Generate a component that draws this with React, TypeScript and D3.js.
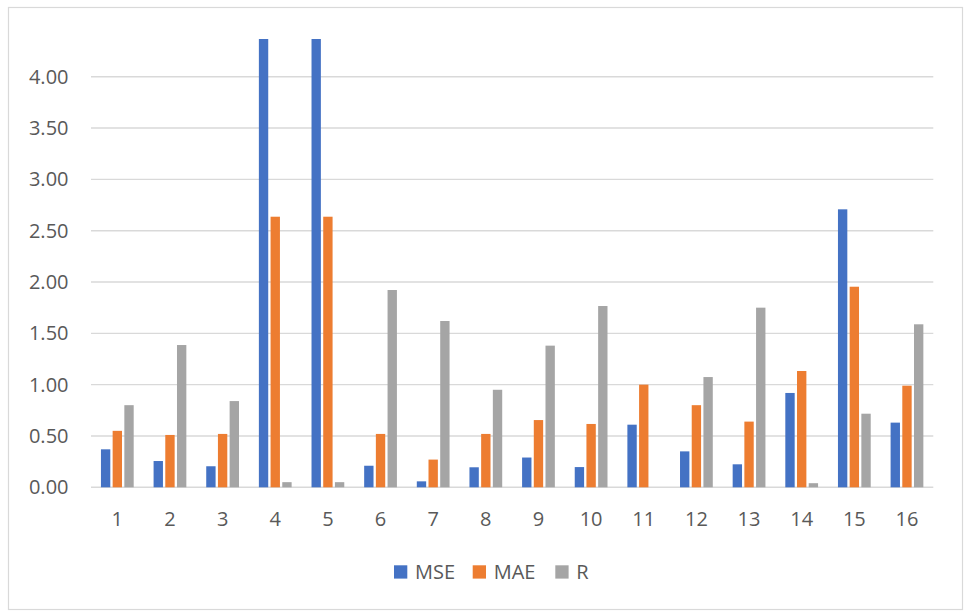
import React from "react";
import * as d3 from "d3";

const categories = ["1","2","3","4","5","6","7","8","9","10","11","12","13","14","15","16"];
const seriesNames = ["MSE", "MAE", "R"];
const mseValues = [0.37, 0.256, 0.205, 4.37, 4.37, 0.21, 0.058, 0.195, 0.29, 0.197, 0.61, 0.35, 0.224, 0.919, 2.708, 0.63];
const maeValues = [0.55, 0.51, 0.52, 2.636, 2.636, 0.52, 0.27, 0.52, 0.655, 0.617, 1.0, 0.8, 0.64, 1.133, 1.954, 0.99];
const rValues = [0.8, 1.386, 0.84, 0.05, 0.05, 1.922, 1.62, 0.95, 1.38, 1.766, 0, 1.074, 1.75, 0.04, 0.717, 1.588];
const yTicks = [0, 0.5, 1, 1.5, 2, 2.5, 3, 3.5, 4];
const colors = ["#4472C4", "#ED7D31", "#A5A5A5"];

export default function App() {
  const W = 967, H = 611;
  const left = 91, right = 933.3, y0 = 487.3, y4 = 76.7;
  const font = "'Open Sans', 'Liberation Sans', sans-serif";
  const x0 = d3.scaleBand<string>().domain(categories).range([left, right]).paddingInner(1 / 3).paddingOuter(1 / 6);
  const x1 = d3.scaleBand<string>().domain(seriesNames).range([0, x0.bandwidth()]).paddingInner(0.2).paddingOuter(0.1);
  const y = d3.scaleLinear().domain([0, 4]).range([y0, y4]);
  const data = [mseValues, maeValues, rValues];

  const legendItems = [
    { name: "MSE", x: 394 },
    { name: "MAE", x: 472.7 },
    { name: "R", x: 555.3 },
  ];

  return (
    <svg width={W} height={H} style={{ position: "absolute", left: 0, top: 0 }} fontFamily={font}>
      <rect x={0} y={0} width={W} height={H} fill="#fff" />
      <rect x={8.5} y={7.5} width={954} height={602} fill="#fff" stroke="#d9d9d9" strokeWidth={1.2} />
      {yTicks.map((t) => (
        <g key={t}>
          <line x1={left} x2={right} y1={y(t)} y2={y(t)} stroke="#d9d9d9" strokeWidth={1.4} />
          <text x={68.5} y={y(t)} dy="0.35em" textAnchor="end" fontSize={20} fill="#595959">
            {t.toFixed(2)}
          </text>
        </g>
      ))}
      {categories.map((c, i) => (
        <g key={c}>
          {seriesNames.map((s, j) => {
            const v = data[j][i];
            const top = Math.max(y(v), 39);
            return (
              <rect
                key={s}
                x={(x0(c) as number) + (x1(s) as number)}
                y={top}
                width={x1.bandwidth()}
                height={y(0) - top}
                fill={colors[j]}
              />
            );
          })}
          <text x={(x0(c) as number) + x0.bandwidth() / 2} y={526} textAnchor="middle" fontSize={20} fill="#595959">
            {c}
          </text>
        </g>
      ))}
      {legendItems.map((l, j) => (
        <g key={l.name}>
          <rect x={l.x} y={565.3} width={13.3} height={13.3} fill={colors[j]} />
          <text x={l.x + 21} y={579} fontSize={20} fill="#595959">
            {l.name}
          </text>
        </g>
      ))}
    </svg>
  );
}
